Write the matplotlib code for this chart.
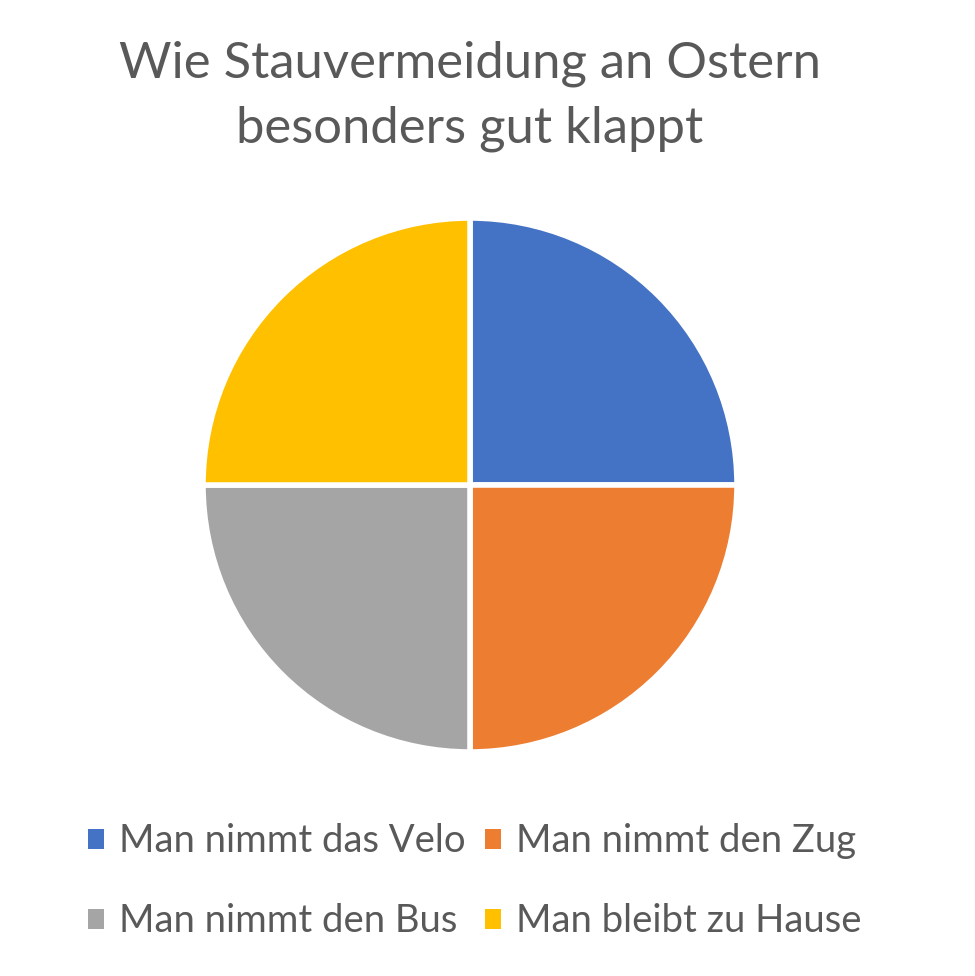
import matplotlib.pyplot as plt
from matplotlib.patches import Patch

# Chart data
labels = ['Man nimmt das Velo', 'Man nimmt den Zug', 'Man nimmt den Bus', 'Man bleibt zu Hause']
values = [1, 1, 1, 1]
colors = ['#4472C4', '#ED7D31', '#A5A5A5', '#FFC000']
title = 'Wie Stauvermeidung an Ostern\nbesonders gut klappt'

plt.rcParams['font.family'] = ['Lato', 'DejaVu Sans']
text_color = '#595959'

fig = plt.figure(figsize=(9.75, 9.76), dpi=100)
fig.patch.set_facecolor('white')

# Pie axes placed to match the reference layout
ax = fig.add_axes([203 / 975, 224 / 976, 534 / 975, 534 / 976])
ax.pie(values, colors=colors, startangle=90, counterclock=False, radius=1,
       wedgeprops=dict(edgecolor='white', linewidth=4))
ax.set_xlim(-1.0, 1.0)
ax.set_ylim(-1.0, 1.0)
ax.set_aspect('equal')
ax.axis('off')

fig.text(0.482, 0.901, title, ha='center', va='center', fontsize=36.5,
         color=text_color, linespacing=1.5)

# legend fills column-major, so reorder to get rows Velo/Zug and Bus/Hause
order = [0, 2, 1, 3]
handles = [Patch(facecolor=colors[i], edgecolor='none') for i in order]
fig.legend(handles, [labels[i] for i in order], loc='center',
           bbox_to_anchor=(0.487, 0.097), ncol=2,
           frameon=False, fontsize=27.5, labelcolor=text_color,
           handlelength=0.42, handleheight=0.42, handletextpad=0.4,
           columnspacing=0.5, labelspacing=1.15)

plt.savefig('out.png', dpi=100)
plt.close()
